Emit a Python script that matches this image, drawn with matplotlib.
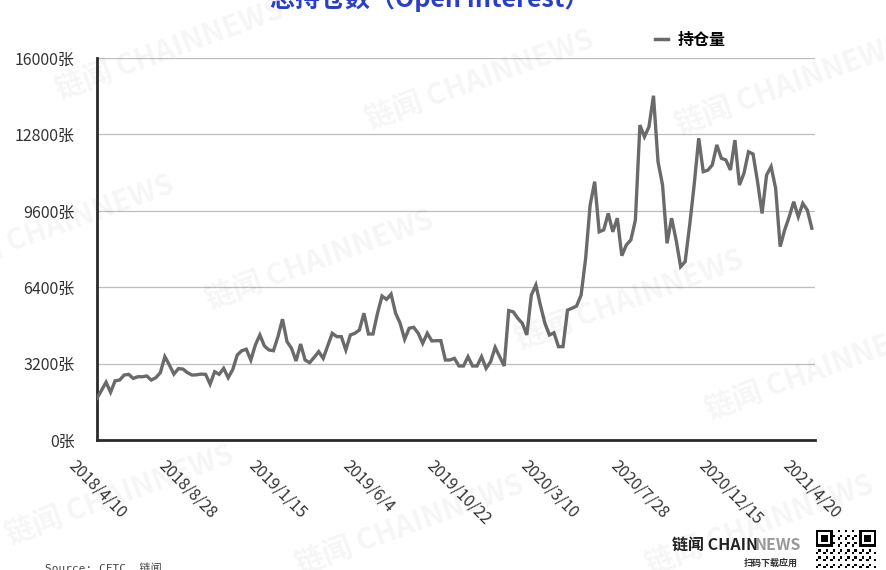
import numpy as np
import pandas as pd
import matplotlib
matplotlib.use("Agg")
import matplotlib.pyplot as plt
from matplotlib.lines import Line2D

plt.rcParams['font.family'] = ['Noto Sans CJK SC', 'DejaVu Sans']

# weekly open interest, 2018/4/10 .. 2021/4/20
dates = pd.date_range('2018-04-10', periods=159, freq='7D')
open_interest = [
    1750, 2080, 2420, 2000, 2480, 2510, 2720, 2750, 2580, 2650,
    2650, 2680, 2510, 2610, 2820, 3490, 3140, 2760, 2990, 2970,
    2820, 2720, 2730, 2760, 2750, 2340, 2860, 2750, 3000, 2610,
    2950, 3560, 3740, 3800, 3350, 3980, 4400, 3940, 3770, 3740,
    4330, 5060, 4120, 3840, 3310, 4020, 3350, 3240, 3460, 3700,
    3420, 3950, 4470, 4330, 4330, 3770, 4400, 4470, 4610, 5310,
    4440, 4440, 5310, 6030, 5890, 6110, 5310, 4890, 4220, 4680,
    4720, 4470, 4050, 4470, 4150, 4160, 4160, 3350, 3350, 3420,
    3100, 3100, 3490, 3100, 3100, 3490, 3000, 3280, 3880, 3490,
    3100, 5420, 5370, 5100, 4890, 4400, 6070, 6490, 5650, 4890,
    4400, 4490, 3910, 3910, 5440, 5520, 5610, 6070, 7600, 9840,
    10820, 8720, 8800, 9490, 8720, 9290, 7720, 8170, 8380, 9210,
    13190, 12700, 13120, 14420, 11660, 10680, 8240, 9290, 8380, 7260,
    7470, 9000, 10700, 12640, 11240, 11300, 11520, 12360, 11800, 11730,
    11310, 12560, 10680, 11170, 12070, 11980, 10820, 9490, 11100, 11450,
    10540, 8100, 8800, 9350, 9980, 9350, 9910, 9630, 8870,
]
tick_dates = ['2018/4/10', '2018/8/28', '2019/1/15', '2019/6/4', '2019/10/22',
              '2020/3/10', '2020/7/28', '2020/12/15', '2021/4/20']
y_ticks = [0, 3200, 6400, 9600, 12800, 16000]

line_color = '#6a6a6a'
text_color = '#333333'

fig = plt.figure(figsize=(8.86, 5.70), dpi=100)
ax = fig.add_axes([97 / 886, 1 - 440 / 570, 718 / 886, 382 / 570])

x = list(range(len(open_interest)))
ax.plot(x, open_interest, color=line_color, lw=2.4, solid_joinstyle='miter', zorder=3)

labels = [d.strftime('%Y/') + str(d.month) + '/' + str(d.day) for d in dates]
tick_pos = [labels.index(t) for t in tick_dates]
ax.set_xticks(tick_pos)
ax.set_xticklabels(tick_dates, rotation=-45, ha='center', va='top',
                   fontsize=11.5, color=text_color)
ax.set_xlim(0, 158.7)

ax.set_ylim(0, 16000)
ax.set_yticks(y_ticks)
ax.set_yticklabels([f'{v}张' for v in y_ticks], fontsize=11.5, color=text_color)
ax.tick_params(axis='both', length=0)
ax.tick_params(axis='y', pad=16)
ax.tick_params(axis='x', pad=12)
ax.grid(axis='y', color='#bdbdbd', lw=0.9)
ax.set_axisbelow(True)
for s in ['top', 'right']:
    ax.spines[s].set_visible(False)
for s in ['left', 'bottom']:
    ax.spines[s].set_color('#2a2a2a')
    ax.spines[s].set_linewidth(2)

# legend
handle = Line2D([], [], color=line_color, lw=2.5)
fig.legend([handle], ['持仓量'], loc='center', bbox_to_anchor=(690 / 886, 1 - 40 / 570),
           frameon=False, handlelength=0.8, handletextpad=0.6,
           prop={'size': 11.5, 'weight': 'bold'})

# title, mostly cut off at the top edge
fig.text(430 / 886, 1 - 7 / 570, '总持仓数（Open Interest）', ha='center', va='baseline',
         fontsize=18, fontweight='bold', color='#2b3fc6')

# watermarks
wm_pos = [(170, 50), (480, 80), (790, 85), (60, 225), (320, 260), (630, 300),
          (820, 370), (120, 495), (410, 525), (760, 525)]
for px, py in wm_pos:
    fig.text(px / 886, 1 - py / 570, '链闻 CHAINNEWS', ha='center', va='center',
             rotation=20, fontsize=21, fontweight='bold', color='#000000', alpha=0.04)

# footer
fig.text(672 / 886, 1 - 545 / 570, '链闻 CHAIN', ha='left', va='center',
         fontsize=11.5, fontweight='bold', color='#222222')
fig.text(754 / 886, 1 - 545 / 570, 'NEWS', ha='left', va='center',
         fontsize=11.5, fontweight='bold', color='#999999')
fig.text(798 / 886, 1 - 563 / 570, '扫码下载应用', ha='right', va='center',
         fontsize=6.5, fontweight='bold', color='#333333')
fig.text(45 / 886, 1 - 563 / 570, 'Source: CFTC, 链闻', ha='left', va='top',
         fontsize=8, color='#444444',
         family=['DejaVu Sans Mono', 'Noto Sans CJK SC'])

# qr-code style badge
n = 25
qr = np.zeros((n, n))
ii, jj = np.meshgrid(np.arange(n), np.arange(n), indexing='ij')
qr[((ii * jj + ii + 2 * jj) % 3 == 0)] = 1
for r0, c0 in [(0, 0), (0, n - 7), (n - 7, 0)]:
    qr[r0:r0 + 7, c0:c0 + 7] = 1
    qr[r0 + 1:r0 + 6, c0 + 1:c0 + 6] = 0
    qr[r0 + 2:r0 + 5, c0 + 2:c0 + 5] = 1
qax = fig.add_axes([816 / 886, 1 - 590 / 570, 60 / 886, 60 / 570])
qax.imshow(qr, cmap='gray_r', interpolation='nearest')
qax.axis('off')

fig.savefig('out.png', dpi=100)
